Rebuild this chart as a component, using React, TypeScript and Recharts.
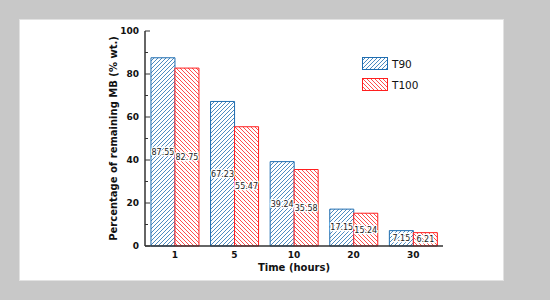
import React from 'react';
import { BarChart, Bar, XAxis, YAxis, Legend, LabelList } from 'recharts';

const times = ['1', '5', '10', '20', '30'];
const t90 = [87.55, 67.23, 39.24, 17.15, 7.15];
const t100 = [82.75, 55.47, 35.58, 15.24, 6.21];
const yTicks = [0, 10, 20, 30, 40, 50, 60, 70, 80, 90, 100];

const data = times.map((t, i) => ({ time: t, T90: t90[i], T100: t100[i] }));

const BLUE = '#1f6db0';
const RED = '#ff1f1f';
const AXIS = '#333';
const FONT = 'DejaVu Sans, Verdana, sans-serif';
const TICK_MARGIN = 6;

const series = [
  { key: 'T90', color: BLUE, pat: 'hatchBlue' },
  { key: 'T100', color: RED, pat: 'hatchRed' },
];

const YTick = (props: any) => {
  const { x, y, payload } = props;
  const axisX = x + TICK_MARGIN;
  const major = payload.value % 20 === 0;
  return (
    <g>
      <line x1={axisX} x2={axisX + (major ? 5 : 3)} y1={y} y2={y} stroke={AXIS} strokeWidth={1} />
      {major && (
        <text x={x} y={y} dy={3.3} textAnchor="end" fontSize={9} fontWeight="bold" fill="#111" fontFamily={FONT}>
          {payload.value}
        </text>
      )}
    </g>
  );
};

const ValueLabel = (props: any) => {
  const { x, y, width, height, value } = props;
  const cx = x + width / 2;
  const cy = y + height / 2;
  return (
    <text
      x={cx}
      y={cy}
      dy={2.9}
      textAnchor="middle"
      fontSize={8}
      fill="#222"
      fontFamily={FONT}
      stroke="#fff"
      strokeWidth={2.5}
      paintOrder="stroke"
    >
      {Number(value).toFixed(2)}
    </text>
  );
};

const renderLegend = () => (
  <div style={{ display: 'flex', flexDirection: 'column', gap: 8 }}>
    {series.map((s) => (
      <div key={s.key} style={{ display: 'flex', alignItems: 'center', height: 13 }}>
        <svg width={26} height={13} style={{ display: 'block' }}>
          <rect x={0.5} y={0.5} width={25} height={12} fill={`url(#${s.pat})`} stroke={s.color} strokeWidth={1} />
        </svg>
        <span style={{ marginLeft: 4, fontSize: 10.5, fontFamily: FONT, color: '#111' }}>{s.key}</span>
      </div>
    ))}
  </div>
);

export default function App() {
  return (
    <div style={{ position: 'absolute', left: 0, top: 0, width: 550, height: 300, background: '#c8c8c8', fontFamily: FONT }}>
      <div style={{ position: 'absolute', left: 20, top: 20, width: 483, height: 260, background: '#fff', boxShadow: '0 0 0 1px #e2e2e2' }} />
      <div style={{ position: 'absolute', left: 0, top: 0 }}>
        <BarChart
          width={550}
          height={300}
          data={data}
          margin={{ top: 31, right: 107, bottom: 0, left: 0 }}
          barCategoryGap="10%"
          barGap={0}
        >
          <defs>
            <pattern id="hatchBlue" patternUnits="userSpaceOnUse" width={4} height={4}>
              <rect width={4} height={4} fill="#fff" />
              <path d="M-1,1 l2,-2 M0,4 l4,-4 M3,5 l2,-2" stroke={BLUE} strokeWidth={0.8} />
            </pattern>
            <pattern id="hatchRed" patternUnits="userSpaceOnUse" width={4} height={4}>
              <rect width={4} height={4} fill="#fff" />
              <path d="M-1,3 l2,2 M0,0 l4,4 M3,-1 l2,2" stroke={RED} strokeWidth={0.8} />
            </pattern>
          </defs>
          <XAxis
            dataKey="time"
            height={54}
            tickLine={false}
            tickSize={0}
            tickMargin={6}
            axisLine={{ stroke: AXIS, strokeWidth: 1.5 }}
            tick={{ fontSize: 9, fontWeight: 'bold', fill: '#111', fontFamily: FONT }}
            label={{ value: 'Time (hours)', position: 'insideTop', offset: 18, fontSize: 10, fontWeight: 'bold', fill: '#111', fontFamily: FONT }}
          />
          <XAxis xAxisId="top" orientation="top" height={0} tick={false} tickLine={false} axisLine={{ stroke: AXIS, strokeWidth: 1.5 }} />
          <YAxis
            width={145}
            domain={[0, 100]}
            ticks={yTicks}
            interval={0}
            tickSize={0}
            tickMargin={TICK_MARGIN}
            tickLine={false}
            axisLine={{ stroke: AXIS, strokeWidth: 1.5 }}
            tick={<YTick />}
            label={{
              value: 'Percentage of remaining MB (% wt.)',
              angle: -90,
              position: 'insideLeft',
              offset: 113,
              fontSize: 10,
              fontWeight: 'bold',
              fill: '#111',
              fontFamily: FONT,
              style: { textAnchor: 'middle' },
            }}
          />
          <YAxis yAxisId="right" orientation="right" width={0} domain={[0, 100]} tick={false} tickLine={false} axisLine={{ stroke: AXIS, strokeWidth: 1.5 }} />
          <Legend
            layout="vertical"
            align="center"
            verticalAlign="middle"
            content={renderLegend}
            wrapperStyle={{ left: 362, top: 57, width: 'auto' }}
          />
          {series.map((s) => (
            <Bar key={s.key} dataKey={s.key} fill={`url(#${s.pat})`} stroke={s.color} strokeWidth={1} isAnimationActive={false}>
              <LabelList dataKey={s.key} content={<ValueLabel />} />
            </Bar>
          ))}
        </BarChart>
      </div>
    </div>
  );
}
